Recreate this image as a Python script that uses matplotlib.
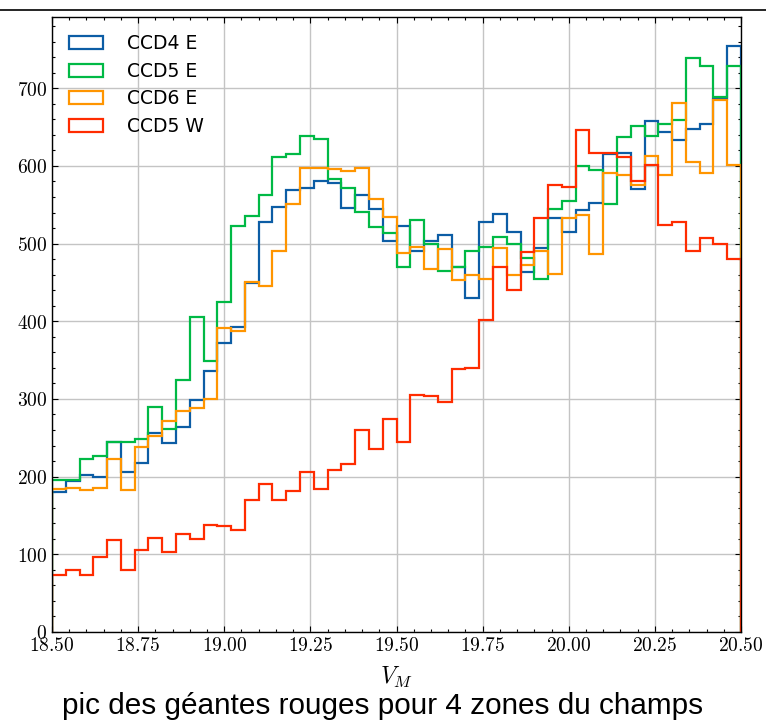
import numpy as np
import matplotlib
matplotlib.use("Agg")
from matplotlib import pyplot as plt
from matplotlib.ticker import MultipleLocator, FuncFormatter
from matplotlib.lines import Line2D

plt.rcParams["mathtext.fontset"] = "cm"

# bin edges in V_M (0.04 mag bins)
edges = np.linspace(18.5, 20.5, 51)
centers = 0.5 * (edges[:-1] + edges[1:])

ccd4_e = [180, 194, 202, 200, 244, 206, 218, 256, 243, 264,
          298, 336, 372, 393, 449, 528, 547, 569, 571, 580,
          578, 546, 563, 545, 503, 523, 490, 503, 511, 470,
          430, 528, 538, 515, 464, 494, 533, 515, 543, 552,
          615, 616, 570, 658, 644, 633, 648, 654, 686, 754]
ccd5_e = [196, 196, 223, 226, 244, 245, 248, 289, 261, 325,
          406, 349, 425, 523, 536, 563, 612, 615, 638, 634,
          583, 571, 541, 521, 513, 470, 531, 500, 465, 470,
          490, 495, 508, 500, 481, 455, 545, 555, 600, 595,
          551, 637, 651, 639, 654, 659, 739, 728, 689, 729]
ccd6_e = [184, 185, 183, 185, 223, 183, 238, 252, 272, 284,
          288, 300, 391, 387, 450, 445, 490, 551, 597, 597,
          596, 593, 597, 558, 534, 488, 495, 467, 493, 453,
          460, 454, 494, 460, 473, 491, 461, 533, 537, 486,
          591, 588, 576, 613, 588, 681, 605, 591, 685, 601]
ccd5_w = [73, 80, 73, 97, 119, 80, 106, 121, 103, 126,
          120, 138, 137, 131, 170, 191, 170, 181, 206, 184,
          208, 216, 260, 235, 274, 244, 305, 304, 296, 338,
          340, 402, 470, 440, 489, 533, 576, 573, 646, 616,
          617, 611, 581, 601, 524, 528, 490, 507, 500, 480]

series = [("CCD4 E", ccd4_e, "#0C5DA5"),
          ("CCD5 E", ccd5_e, "#00B945"),
          ("CCD6 E", ccd6_e, "#FF9500"),
          ("CCD5 W", ccd5_w, "#FF2C00")]

fig = plt.figure(figsize=(7.66, 7.26), dpi=100)
ax = fig.add_axes([0.0679, 0.1295, 0.8995, 0.8471])

for label, counts, color in series:
    ax.hist(centers, bins=edges, weights=counts, histtype="step",
            color=color, linewidth=1.6, label=label)

ax.set_xlim(18.5, 20.5)
ax.xaxis.set_major_locator(MultipleLocator(0.25))
ax.xaxis.set_minor_locator(MultipleLocator(0.05))
ax.yaxis.set_major_locator(MultipleLocator(100))
ax.yaxis.set_minor_locator(MultipleLocator(20))
ax.xaxis.set_major_formatter(FuncFormatter(lambda v, p: f"${v:.2f}$"))
ax.yaxis.set_major_formatter(FuncFormatter(lambda v, p: f"${v:.0f}$"))
ax.tick_params(which="both", direction="in", top=True, right=True,
               labelsize=14, width=0.8)
ax.tick_params(which="major", length=4)
ax.tick_params(which="minor", length=2)
ax.tick_params(axis="x", pad=3)
ax.grid(True, which="major", color="#c4c4c4", linewidth=1.0)
ax.set_axisbelow(True)
for sp in ax.spines.values():
    sp.set_linewidth(1.0)

ax.set_xlabel("$V_M$", fontsize=17, labelpad=7)

leg = ax.legend(loc="upper left", frameon=False, fontsize=13.5,
                handlelength=1.8, handletextpad=1.3, labelspacing=0.47)

# caption under the plot and rule across the top
fig.text(0.5, 0.028, "pic des géantes rouges pour 4 zones du champs",
         ha="center", va="center", fontsize=21.4, family="Liberation Sans")
fig.add_artist(Line2D([0, 1], [1 - 9.5 / 726, 1 - 9.5 / 726],
                      color="black", linewidth=1.2, transform=fig.transFigure))

fig.savefig("out.png", dpi=100)
